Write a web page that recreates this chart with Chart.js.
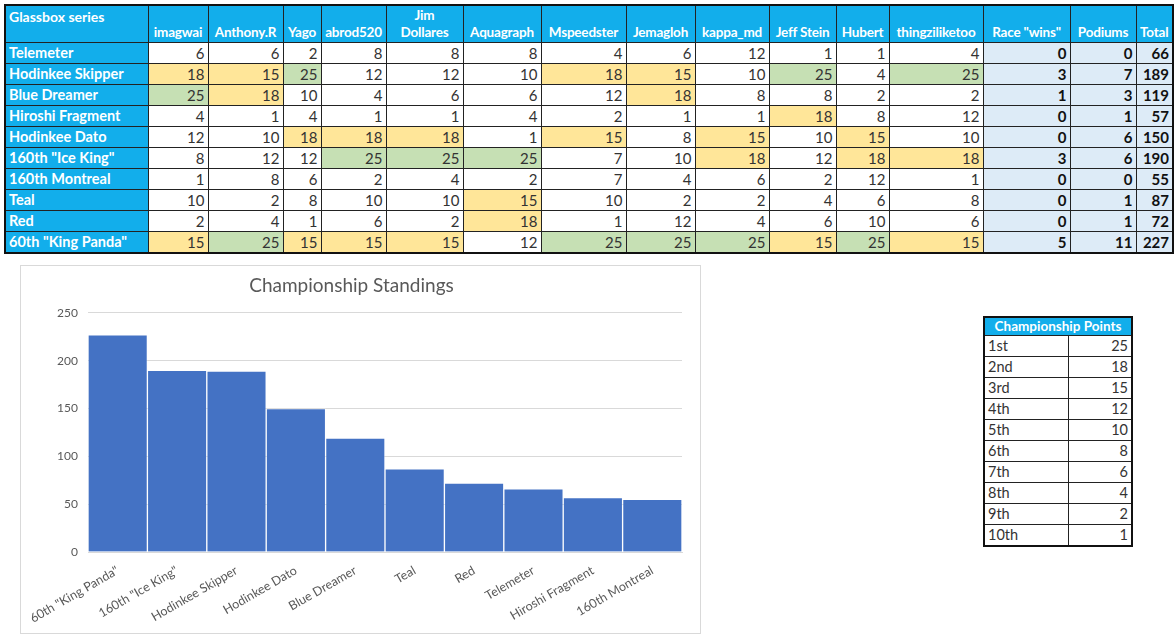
<!DOCTYPE html>
<html>
<head>
<meta charset="utf-8">
<script src="https://cdn.jsdelivr.net/npm/chart.js@4"></script>
<style>
html,body{margin:0;padding:0;background:#fff;width:1176px;height:639px;overflow:hidden;font-family:Lato,"Open Sans",sans-serif;}
#grid{position:absolute;left:4px;top:4px;border-collapse:collapse;table-layout:fixed;width:1168px;border:2px solid #111;}
#grid td,#grid th{border:1px solid #222;padding:0 3px;white-space:nowrap;overflow:hidden;}
#grid th{background:#12AEEB;color:#fff;font-weight:bold;font-size:13.5px;height:34px;vertical-align:bottom;text-align:center;line-height:17px;padding:0 0 1px 0;letter-spacing:-0.2px;}
#grid th.corner{text-align:left;vertical-align:top;font-size:14px;padding:2px 3px 0 3px;letter-spacing:0;}
#grid td{height:20px;font-size:15px;color:#333;text-align:right;line-height:20px;}
#grid td.name{background:#12AEEB;color:#fff;font-weight:bold;font-size:14.5px;text-align:left;}
#grid td.g{background:#C6E0B4;}
#grid td.y{background:#FFE699;}
#grid td.s{background:#DDEBF7;font-weight:bold;color:#111;}
#chartBox{position:absolute;left:20px;top:265px;width:679px;height:367px;border:1px solid #D9D9D9;background:#fff;}
#pts{position:absolute;left:983px;top:316px;border-collapse:collapse;table-layout:fixed;width:148px;border:2px solid #111;font-size:14.5px;color:#333;}
#pts td,#pts th{border:1px solid #222;padding:0 3px;height:20px;line-height:20px;}
#pts th{background:#12AEEB;color:#fff;font-weight:bold;font-size:13.5px;height:17px;line-height:17px;text-align:center;padding:0;}
#pts td.v{text-align:right;}
</style>
</head>
<body>
<table id="grid"></table>
<div id="chartBox"><canvas id="c" width="679" height="367"></canvas></div>
<table id="pts"></table>
<script>
// ---- Data ----
const players = ["imagwai","Anthony.R","Yago","abrod520","Jim Dollares","Aquagraph","Mspeedster","Jemagloh","kappa_md","Jeff Stein","Hubert","thingziliketoo"];
const summaryHeaders = ['Race "wins"',"Podiums","Total"];
const teams = ["Telemeter","Hodinkee Skipper","Blue Dreamer","Hiroshi Fragment","Hodinkee Dato",'160th "Ice King"',"160th Montreal","Teal","Red",'60th "King Panda"'];
const teamPoints = [
  [6,6,2,8,8,8,4,6,12,1,1,4],
  [18,15,25,12,12,10,18,15,10,25,4,25],
  [25,18,10,4,6,6,12,18,8,8,2,2],
  [4,1,4,1,1,4,2,1,1,18,8,12],
  [12,10,18,18,18,1,15,8,15,10,15,10],
  [8,12,12,25,25,25,7,10,18,12,18,18],
  [1,8,6,2,4,2,7,4,6,2,12,1],
  [10,2,8,10,10,15,10,2,2,4,6,8],
  [2,4,1,6,2,18,1,12,4,6,10,6],
  [15,25,15,15,15,12,25,25,25,15,25,15]
];
const raceWins = [0,3,1,0,0,3,0,0,0,5];
const podiums = [0,7,3,1,6,6,0,1,1,11];
const totals = [66,189,119,57,150,190,55,87,72,227];

const chartLabels = ['60th "King Panda"','160th "Ice King"',"Hodinkee Skipper","Hodinkee Dato","Blue Dreamer","Teal","Red","Telemeter","Hiroshi Fragment","160th Montreal"];
const chartTotals = [227,190,189,150,119,87,72,66,57,55];
const yTicks = [0,50,100,150,200,250];

const pointPlaces = ["1st","2nd","3rd","4th","5th","6th","7th","8th","9th","10th"];
const pointValues = [25,18,15,12,10,8,6,4,2,1];

// ---- Main table ----
const colWidths = [143,60,75,38,65,77,78,85,69,74,67,53,94,87,66,37];
const grid = document.getElementById('grid');
let html = '<colgroup>' + colWidths.map(w=>'<col style="width:'+w+'px">').join('') + '</colgroup>';
html += '<tr><th class="corner">Glassbox series</th>' +
  players.map(p=>'<th>'+p.replace('Jim Dollares','Jim<br>Dollares')+'</th>').join('') +
  summaryHeaders.map(h=>'<th>'+h+'</th>').join('') + '</tr>';
teams.forEach((t,i)=>{
  html += '<tr><td class="name">'+t+'</td>';
  teamPoints[i].forEach(v=>{
    const cls = v===25 ? 'g' : (v===18||v===15) ? 'y' : '';
    html += '<td class="'+cls+'">'+v+'</td>';
  });
  html += '<td class="s">'+raceWins[i]+'</td><td class="s">'+podiums[i]+'</td><td class="s">'+totals[i]+'</td></tr>';
});
grid.innerHTML = html;

// ---- Points table ----
let ph = '<colgroup><col style="width:84px"><col style="width:64px"></colgroup><tr><th colspan="2">Championship Points</th></tr>';
pointPlaces.forEach((p,i)=>{ ph += '<tr><td>'+p+'</td><td class="v">'+pointValues[i]+'</td></tr>'; });
document.getElementById('pts').innerHTML = ph;

// ---- Chart ----
Chart.defaults.font.family = "Lato, 'Open Sans', sans-serif";
new Chart(document.getElementById('c'), {
  type: 'bar',
  data: {
    labels: chartLabels,
    datasets: [{
      data: chartTotals,
      backgroundColor: '#4472C4',
      borderColor: 'rgba(255,255,255,0.3)',
      borderWidth: 1,
      barPercentage: 1,
      categoryPercentage: 1
    }]
  },
  options: {
    responsive: false,
    animation: false,
    layout: { padding: { left: 0, right: 18, top: 0, bottom: 0 } },
    plugins: {
      legend: { display: false },
      tooltip: { enabled: false },
      title: {
        display: true,
        text: 'Championship Standings',
        color: '#595959',
        font: { size: 19, weight: 'normal' },
        padding: { top: 8, bottom: 16 }
      }
    },
    scales: {
      x: {
        grid: { display: false },
        border: { display: true, color: '#D9D9D9' },
        ticks: { color: '#595959', font: { size: 12.5 }, minRotation: 30, maxRotation: 30, autoSkip: false, padding: 3 },
        afterFit: s => { s.height = 81; }
      },
      y: {
        min: 0, max: 250,
        afterBuildTicks: s => { s.ticks = yTicks.map(v => ({ value: v })); },
        grid: { color: '#D9D9D9', drawTicks: false },
        border: { display: false },
        ticks: { color: '#595959', font: { size: 12 }, padding: 10 },
        afterFit: s => { s.width = 67; }
      }
    }
  }
});
</script>
</body>
</html>
